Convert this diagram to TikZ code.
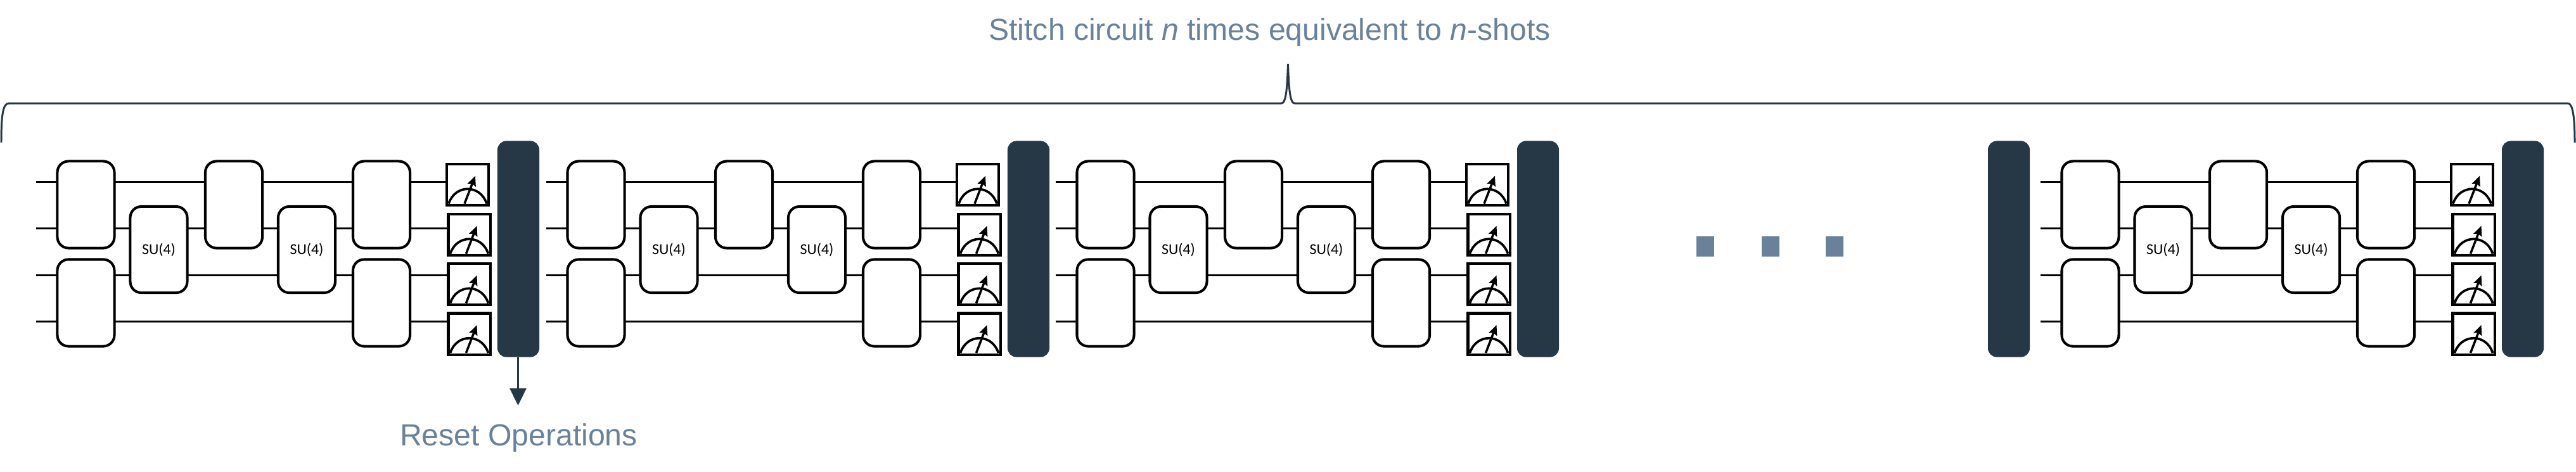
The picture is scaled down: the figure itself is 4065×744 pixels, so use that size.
\documentclass[tikz,border=0pt]{standalone}
\usepackage{fontspec}
\setmainfont{Liberation Sans}
\newfontfamily\gatefont{Carlito}
\usetikzlibrary{arrows.meta,backgrounds}
\definecolor{barblue}{HTML}{263746}
\definecolor{labelblue}{HTML}{6A8299}
\tikzset{
    wire/.style={line width=1.05pt},
    gatebox/.style={draw, fill=white, line width=1.15pt, rounded corners=5pt, inner sep=0pt, minimum width=0.9cm, font=\gatefont\fontsize{6.8}{8}\selectfont},
    twogate/.style={gatebox, minimum height=1.37cm},
    sugate/.style={gatebox, minimum height=1.36cm},
    meterbox/.style={draw, fill=white, line width=1.15pt, inner sep=0pt, minimum width=0.66cm, minimum height=0.65cm},
    resetbar/.style={fill=barblue, rounded corners=4pt, inner sep=0pt, minimum width=0.66cm, minimum height=3.41cm},
    dotbox/.style={fill=labelblue, inner sep=0pt, minimum width=0.28cm, minimum height=0.32cm},
    bigtext/.style={text=labelblue, anchor=base, font=\fontsize{13.7}{16}\selectfont},
}
\begin{document}
\begin{tikzpicture}[x=0.01cm, y=-0.01cm]
    \useasboundingbox (0,0) rectangle (4065,744);

    % one circuit block per shift
    \foreach \offs/\blk in {0/a, 805/b, 1609/c, 3163/d} {
        \begin{scope}[xshift=\offs*0.01cm]
            \node[twogate] (\blk-g1) at (135.5,323) {};
            \node[twogate] (\blk-g2) at (135.5,478) {};
            \node[sugate] (\blk-su1) at (250.5,394) {SU(4)};
            \node[twogate] (\blk-g3) at (369,323) {};
            \node[sugate] (\blk-su2) at (484,394) {SU(4)};
            \node[twogate] (\blk-g4) at (602,323) {};
            \node[twogate] (\blk-g5) at (602,478) {};
            \node[meterbox] (\blk-m1) at (738,291.5) {};
            \node[meterbox] (\blk-m2) at (740.5,370.5) {};
            \node[meterbox] (\blk-m3) at (740.5,448.5) {};
            \node[meterbox] (\blk-m4) at (740.5,527) {};
            \node[resetbar] (\blk-bar) at (818,393) {};
            \coordinate (\blk-s1) at (57,287.5);
            \coordinate (\blk-s2) at (57,360.5);
            \coordinate (\blk-s3) at (57,434.5);
            \coordinate (\blk-s4) at (57,507.5);
        \end{scope}
        % wires go under the gates
        \begin{pgfonlayer}{background}
            \foreach \q in {1,2,3,4} {
                \draw[wire] (\blk-s\q) -- (\blk-s\q -| \blk-m\q.west);
            }
        \end{pgfonlayer}
        % meter faces
        \foreach \q in {1,2,3,4} {
            \draw[line width=1.05pt, shift={(\blk-m\q.center)}] (-30,30) .. controls (-20,-1) and (20,-1) .. (30,30);
            \draw[line width=1pt, -{Stealth[length=4.4pt, width=3.8pt, inset=0.6pt]}, shift={(\blk-m\q.center)}] (-5,30) -- (12,-14);
        }
    }

    \node[resetbar] (extrabar) at (3170,393) {};

    \node[dotbox] (dot1) at (2690.5,389) {};
    \node[dotbox] (dot2) at (2793.5,389) {};
    \node[dotbox] (dot3) at (2895,389) {};

    \draw[barblue, line width=0.85pt] (2,225) .. controls (2,185) and (4,163) .. (14,163) -- (2022,163)
        .. controls (2028,163) and (2031,150) .. (2032.5,101)
        .. controls (2034,150) and (2037,163) .. (2043,163) -- (4052,163)
        .. controls (4060,163) and (4063,185) .. (4063,225);

    \node[bigtext] (stitchlabel) at (2003.5,63) {Stitch circuit \textit{n} times equivalent to \textit{n}-shots};
    \node[bigtext] (resetlabel) at (818.5,703) {Reset Operations};

    \coordinate (resettip) at (817.5,640);
    \draw[barblue, line width=0.7pt, -{Triangle[length=7.7pt, width=7.4pt]}] (a-bar.south -| resettip) -- (resettip);
\end{tikzpicture}
\end{document}
